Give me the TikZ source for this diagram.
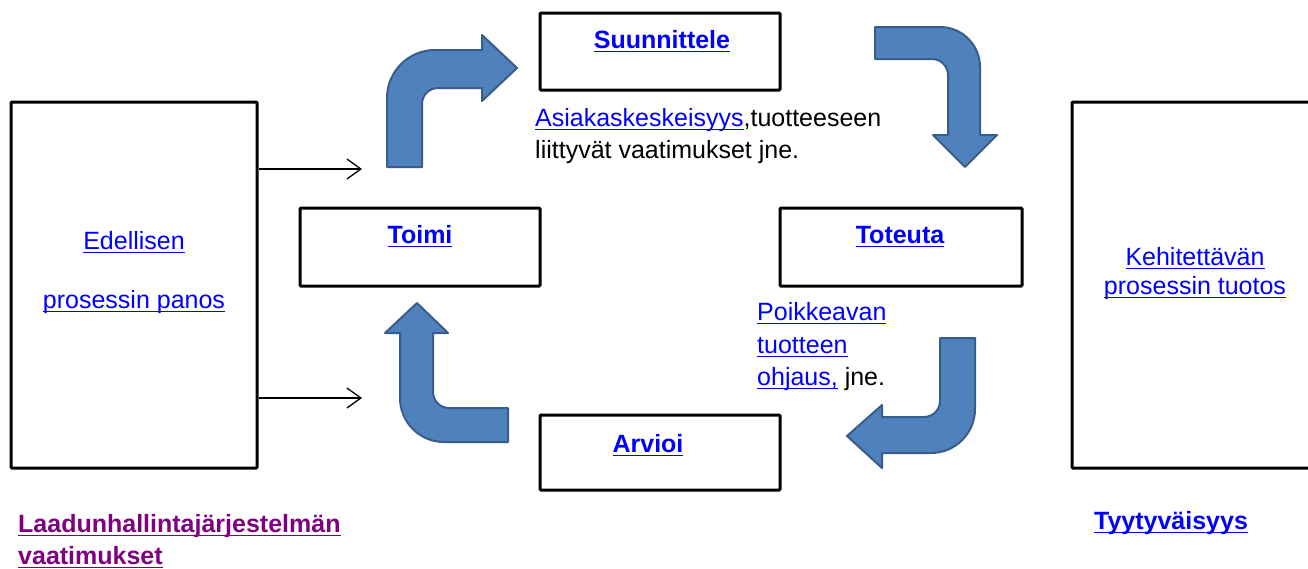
\documentclass[tikz,border=0pt]{standalone}
\usepackage{fontspec}
\setmainfont{Liberation Sans}
\usetikzlibrary{arrows.meta}
\definecolor{linkblue}{RGB}{0,0,255}
\definecolor{visitedpurple}{RGB}{128,0,128}
\definecolor{arrowfill}{RGB}{79,129,189}
\definecolor{arrowline}{RGB}{56,93,138}
\newcommand\myul[1]{\setbox0\hbox{#1}\rlap{\vrule width\wd0 height -2.6pt depth 4.2pt}\box0}
\newcommand\lnk[1]{\textcolor{linkblue}{\myul{#1}}}
\newcommand\vlnk[1]{\textcolor{visitedpurple}{\myul{#1}}}
\begin{document}
\begin{tikzpicture}[x=1pt,y=-1pt,
  box/.style={draw, line width=3pt, inner sep=0pt, rounded corners=1pt},
  txt/.style={font=\fontsize{25}{32}\selectfont, inner sep=0pt},
  lbl/.style={font=\fontsize{25}{32}\selectfont\bfseries, inner sep=0pt, anchor=base},
  bent/.style={fill=arrowfill, draw=arrowline, line width=2pt, line join=round},
  thin/.style={line width=1.3pt, -{Straight Barb[length=14pt,width=20pt,line width=1.3pt]}}]
\clip (0,0) rectangle (1308,568);
\fill[white] (0,0) rectangle (1308,568);

% boxes
\node[box, minimum width=246pt, minimum height=366pt] (L) at (134,285) {};
\node[box, minimum width=246pt, minimum height=366pt] (R) at (1195,285) {};
\node[box, minimum width=240pt, minimum height=77pt] (S) at (660,51.5) {};
\node[box, minimum width=240pt, minimum height=78pt] (T) at (420,247) {};
\node[box, minimum width=242pt, minimum height=78pt] (E) at (901,247) {};
\node[box, minimum width=240pt, minimum height=75pt] (A) at (660,452.5) {};

% box labels
\node[lbl] (Slab) at (662,48) {\lnk{Suunnittele}};
\node[lbl] (Tlab) at (420,243) {\lnk{Toimi}};
\node[lbl] (Elab) at (900,243) {\lnk{Toteuta}};
\node[lbl] (Alab) at (648,452) {\lnk{Arvioi}};

% texts
\node[txt, anchor=base west] (s1) at (535,126) {\lnk{Asiakaskeskeisyys},tuotteeseen};
\node[txt, anchor=base west] (s2) at (535,158) {liittyvät vaatimukset jne.};
\node[txt, anchor=base] (e1) at (134,249) {\lnk{Edellisen}};
\node[txt, anchor=base] (e2) at (134,308) {\lnk{prosessin panos}};
\node[txt, anchor=base] (k1) at (1195,265) {\lnk{Kehitettävän}};
\node[txt, anchor=base] (k2) at (1195,294) {\lnk{prosessin tuotos}};
\node[txt, anchor=base west] (p1) at (757,320) {\lnk{Poikkeavan}};
\node[txt, anchor=base west] (p2) at (757,353) {\lnk{tuotteen}};
\node[txt, anchor=base west] (p3) at (757,385) {\lnk{ohjaus,} jne.};
\node[txt, anchor=base west, font=\fontsize{25}{32}\selectfont\bfseries] (q1) at (18,532) {\vlnk{Laadunhallintajärjestelmän}};
\node[txt, anchor=base west, font=\fontsize{25}{32}\selectfont\bfseries] (q2) at (18,564) {\vlnk{vaatimukset}};
\node[txt, anchor=base, font=\fontsize{25}{32}\selectfont\bfseries] (ty) at (1171,529) {\lnk{Tyytyväisyys}};

% thin arrows
\coordinate (t1) at (362,169);
\coordinate (t2) at (362,398);
\draw[thin] (L.east |- t1) -- (t1);
\draw[thin] (L.east |- t2) -- (t2);

% bent block arrows
\draw[bent] (387,167) -- (387,98) arc[start angle=180,end angle=270,radius=48]
  -- (482,50) -- (482,35) -- (517,68) -- (482,101) -- (482,88) -- (438,88)
  arc[start angle=270,end angle=180,radius=16] -- (422,167) -- cycle;
\draw[bent] (875,27) -- (940,27) arc[start angle=270,end angle=360,radius=40]
  -- (980,135) -- (997,135) -- (965,167) -- (933,135) -- (948,135) -- (948,75)
  arc[start angle=0,end angle=-90,radius=16] -- (875,59) -- cycle;
\draw[bent] (940,338) -- (975,338) -- (975,409) arc[start angle=0,end angle=90,radius=44]
  -- (882,453) -- (882,468) -- (847,436) -- (882,405) -- (882,417) -- (924,417)
  arc[start angle=90,end angle=0,radius=16] -- cycle;
\draw[bent] (508,408) -- (508,442) -- (444,442) arc[start angle=90,end angle=180,radius=44]
  -- (400,333) -- (385,333) -- (417,303) -- (448,333) -- (433,333) -- (433,392)
  arc[start angle=180,end angle=90,radius=16] -- cycle;
\end{tikzpicture}
\end{document}
